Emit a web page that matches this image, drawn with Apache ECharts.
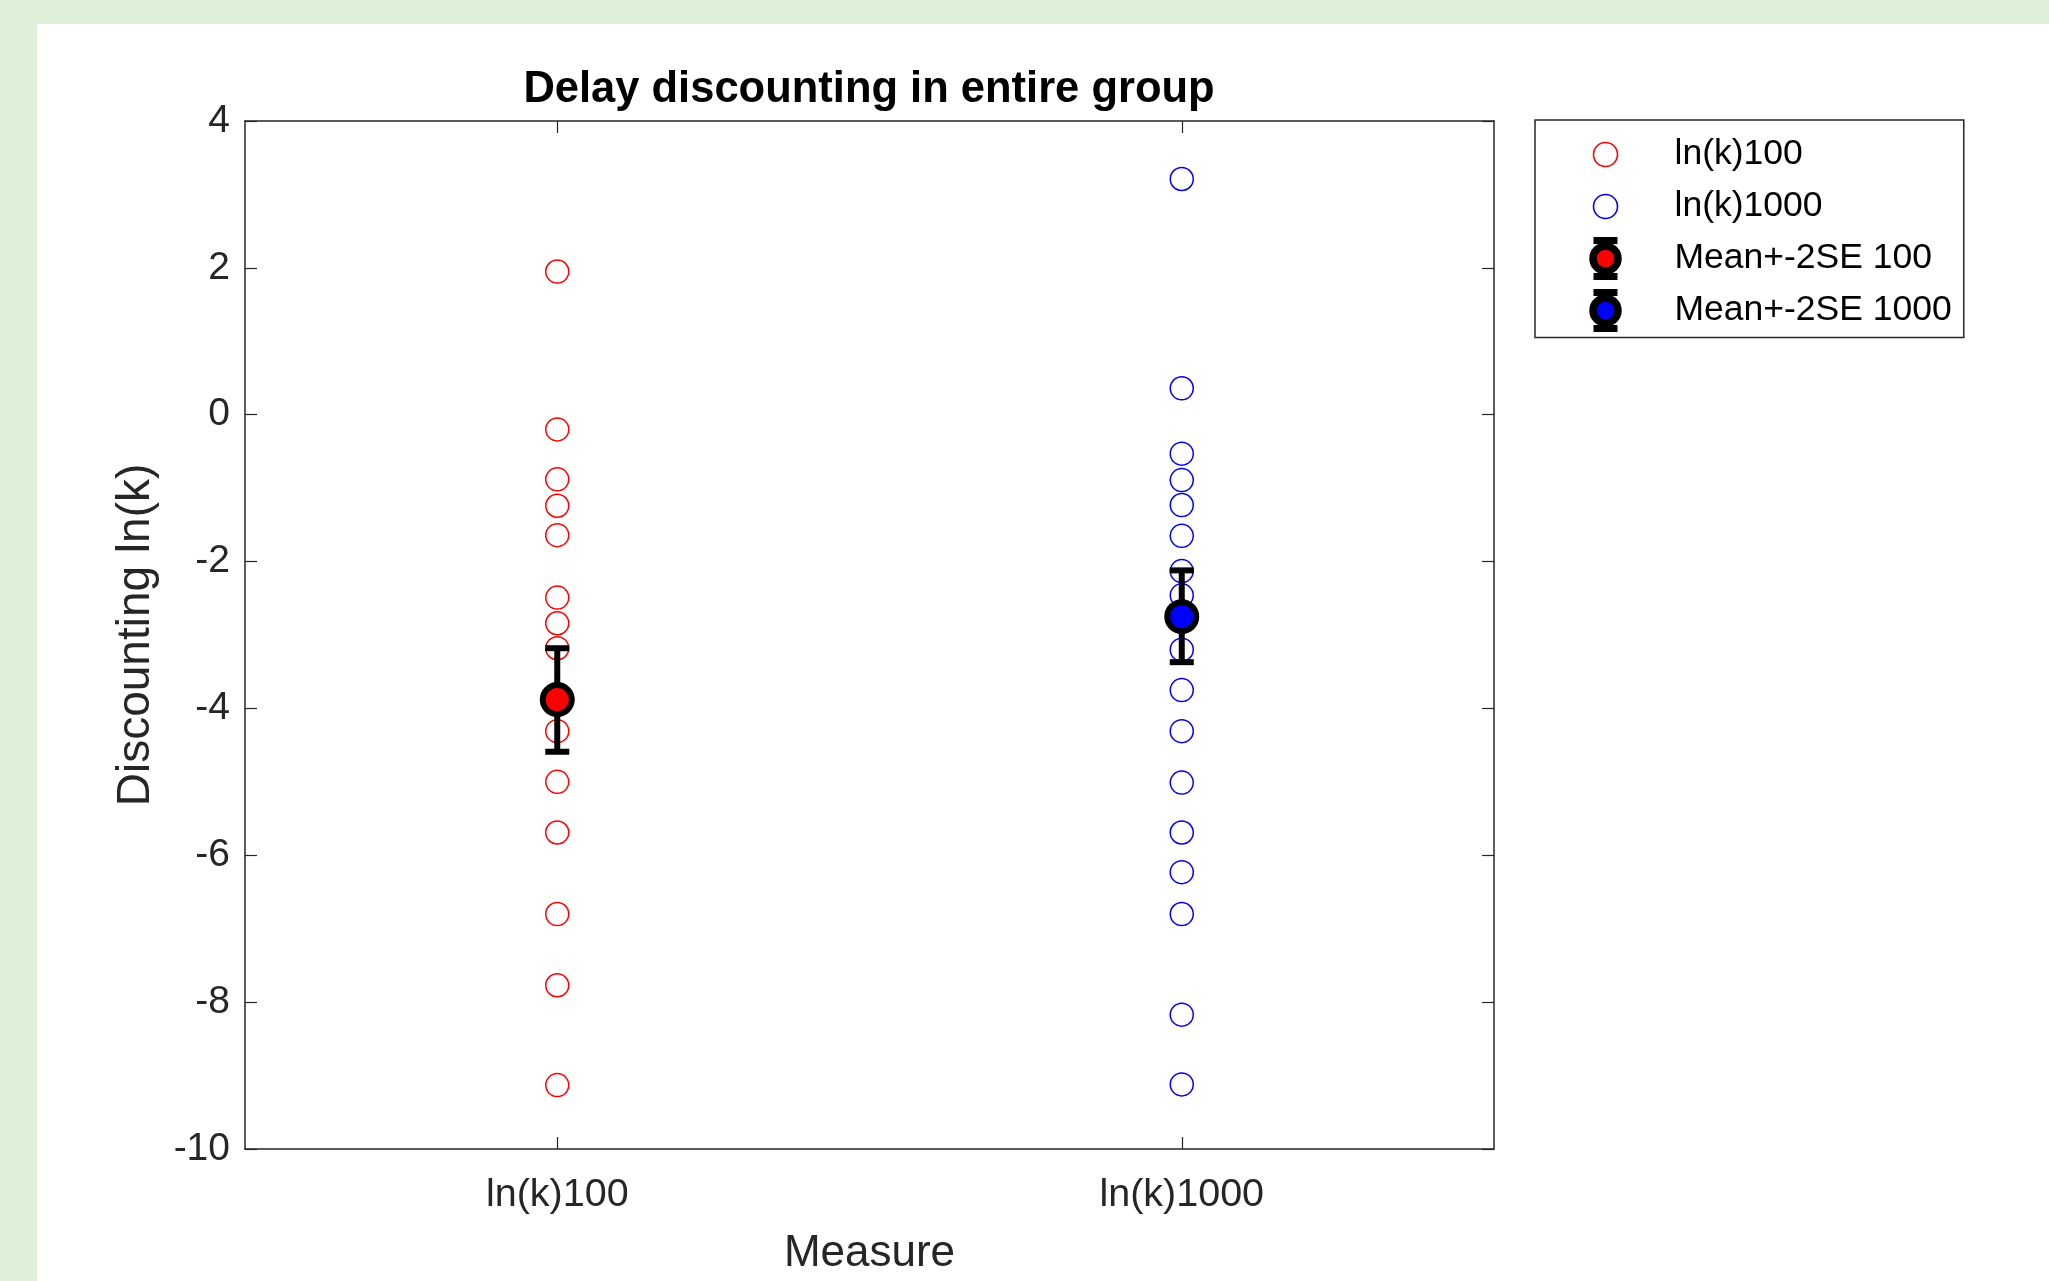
<!DOCTYPE html>
<html>
<head>
<meta charset="utf-8">
<script src="https://cdn.jsdelivr.net/npm/echarts@6/dist/echarts.min.js"></script>
<style>
  html, body { margin: 0; padding: 0; background: #dff0d8; overflow: hidden; }
  #panel { position: absolute; left: 37px; top: 24px; width: 2012px; height: 1257px; background: #ffffff; }
  #chart { position: absolute; left: 0; top: 0; width: 2049px; height: 1281px; }
</style>
</head>
<body>
<div id="panel"></div>
<div id="chart"></div>
<script>
// ---- data ----
const categories = ['ln(k)100', 'ln(k)1000'];
const lnk100 = [1.95, -0.2, -0.88, -1.24, -1.64, -2.49, -2.84, -3.18, -4.31, -5.0, -5.69, -6.8, -7.77, -9.13];
const lnk1000 = [3.21, 0.36, -0.53, -0.89, -1.23, -1.65, -2.13, -2.46, -3.2, -3.75, -4.31, -5.01, -5.69, -6.23, -6.8, -8.17, -9.12];
const meanValues = [-3.88, -2.75];
const seLow = [-4.59, -3.37];
const seHigh = [-3.18, -2.12];
const seriesNames = ['ln(k)100', 'ln(k)1000', 'Mean+-2SE 100', 'Mean+-2SE 1000'];
const yMin = -10, yMax = 4, yStep = 2;

const FONT = "'Liberation Sans', Arial, Helvetica, sans-serif";
const AX = '#262626';
const RED = '#ff0000', BLUE = '#0000ff';

function svgIcon(inner) {
  const svg = '<svg xmlns="http://www.w3.org/2000/svg" width="128" height="46" viewBox="0 0 128 46">' + inner + '</svg>';
  return 'image://data:image/svg+xml;charset=utf-8,' + encodeURIComponent(svg);
}
const hollowIcon = c => svgIcon('<circle cx="64" cy="23" r="12" fill="none" stroke="' + c + '" stroke-width="1.6"/>');
const meanIcon = c => svgIcon(
  '<line x1="64" y1="2" x2="64" y2="44" stroke="#000" stroke-width="7"/>' +
  '<line x1="52" y1="5" x2="76" y2="5" stroke="#000" stroke-width="7"/>' +
  '<line x1="52" y1="41" x2="76" y2="41" stroke="#000" stroke-width="7"/>' +
  '<circle cx="64" cy="23" r="12.5" fill="' + c + '" stroke="#000" stroke-width="7.5"/>');

function points(idx, vals) { return vals.map(v => [idx, v]); }

function errRender(params, api) {
  const x = api.value(0);
  const pLo = api.coord([x, api.value(1)]);
  const pHi = api.coord([x, api.value(2)]);
  const hw = 12;
  const st = { stroke: '#000', lineWidth: 6 };
  return { type: 'group', children: [
    { type: 'line', shape: { x1: pLo[0], y1: pLo[1], x2: pHi[0], y2: pHi[1] }, style: st },
    { type: 'line', shape: { x1: pLo[0] - hw, y1: pLo[1], x2: pLo[0] + hw, y2: pLo[1] }, style: st },
    { type: 'line', shape: { x1: pHi[0] - hw, y1: pHi[1], x2: pHi[0] + hw, y2: pHi[1] }, style: st }
  ]};
}

const chart = echarts.init(document.getElementById('chart'), null, { renderer: 'canvas', width: 2049, height: 1281 });

const axisLine = { show: true, onZero: false, lineStyle: { color: AX, width: 1.5 } };
const tick = { show: true, inside: true, length: 12, lineStyle: { color: AX, width: 1.2 } };

chart.setOption({
  backgroundColor: 'transparent',
  animation: false,
  title: {
    text: 'Delay discounting in entire group',
    left: 869, top: 68, textAlign: 'center', padding: 0,
    textStyle: { fontFamily: FONT, fontSize: 43.5, fontWeight: 'bold', color: '#000' }
  },
  grid: { left: 245, width: 1249, top: 121, height: 1036, containLabel: false },
  legend: {
    orient: 'vertical', left: 1535, top: 120,
    padding: [11.5, 12, 4, 6.5], itemGap: 6,
    itemWidth: 128, itemHeight: 46,
    backgroundColor: '#fff', borderColor: AX, borderWidth: 1.5, borderRadius: 0,
    selectedMode: false,
    textStyle: { fontFamily: FONT, fontSize: 35.5, color: '#000' },
    data: [
      { name: seriesNames[0], icon: hollowIcon(RED) },
      { name: seriesNames[1], icon: hollowIcon(BLUE) },
      { name: seriesNames[2], icon: meanIcon(RED) },
      { name: seriesNames[3], icon: meanIcon(BLUE) }
    ]
  },
  xAxis: [
    {
      type: 'category', data: categories, position: 'bottom', boundaryGap: true,
      axisLine: axisLine,
      axisTick: Object.assign({ alignWithLabel: true }, tick),
      axisLabel: { fontFamily: FONT, fontSize: 39.5, color: AX, margin: 26 },
      splitLine: { show: false },
      name: 'Measure', nameLocation: 'middle', nameGap: 83,
      nameTextStyle: { fontFamily: FONT, fontSize: 44, color: AX }
    },
    {
      type: 'category', data: categories, position: 'top', boundaryGap: true,
      axisLine: axisLine,
      axisTick: Object.assign({ alignWithLabel: true }, tick),
      axisLabel: { show: false }, splitLine: { show: false }
    }
  ],
  yAxis: [
    {
      type: 'value', min: yMin, max: yMax, interval: yStep, position: 'left',
      axisLine: axisLine, axisTick: tick,
      axisLabel: { fontFamily: FONT, fontSize: 39, color: AX, margin: 15 },
      splitLine: { show: false },
      name: 'Discounting ln(k)', nameLocation: 'middle', nameGap: 86,
      nameTextStyle: { fontFamily: FONT, fontSize: 46, color: AX }
    },
    {
      type: 'value', min: yMin, max: yMax, interval: yStep, position: 'right',
      axisLine: axisLine, axisTick: tick,
      axisLabel: { show: false }, splitLine: { show: false }
    }
  ],
  series: [
    {
      name: seriesNames[0], type: 'scatter', data: points(0, lnk100),
      symbol: 'circle', symbolSize: 23, silent: true, z: 2,
      itemStyle: { color: 'rgba(255,255,255,0)', borderColor: RED, borderWidth: 1.5, opacity: 1 }
    },
    {
      name: seriesNames[1], type: 'scatter', data: points(1, lnk1000),
      symbol: 'circle', symbolSize: 23, silent: true, z: 2,
      itemStyle: { color: 'rgba(255,255,255,0)', borderColor: BLUE, borderWidth: 1.5, opacity: 1 }
    },
    {
      name: seriesNames[2], type: 'custom', renderItem: errRender, silent: true, z: 3,
      data: [[0, seLow[0], seHigh[0]]], encode: { x: 0, y: [1, 2] }
    },
    {
      name: seriesNames[3], type: 'custom', renderItem: errRender, silent: true, z: 3,
      data: [[1, seLow[1], seHigh[1]]], encode: { x: 0, y: [1, 2] }
    },
    {
      name: seriesNames[2], type: 'scatter', data: [[0, meanValues[0]]],
      symbol: 'circle', symbolSize: 29, silent: true, z: 4,
      itemStyle: { color: RED, borderColor: '#000', borderWidth: 6, opacity: 1 }
    },
    {
      name: seriesNames[3], type: 'scatter', data: [[1, meanValues[1]]],
      symbol: 'circle', symbolSize: 29, silent: true, z: 4,
      itemStyle: { color: BLUE, borderColor: '#000', borderWidth: 6, opacity: 1 }
    }
  ]
});
</script>
</body>
</html>
